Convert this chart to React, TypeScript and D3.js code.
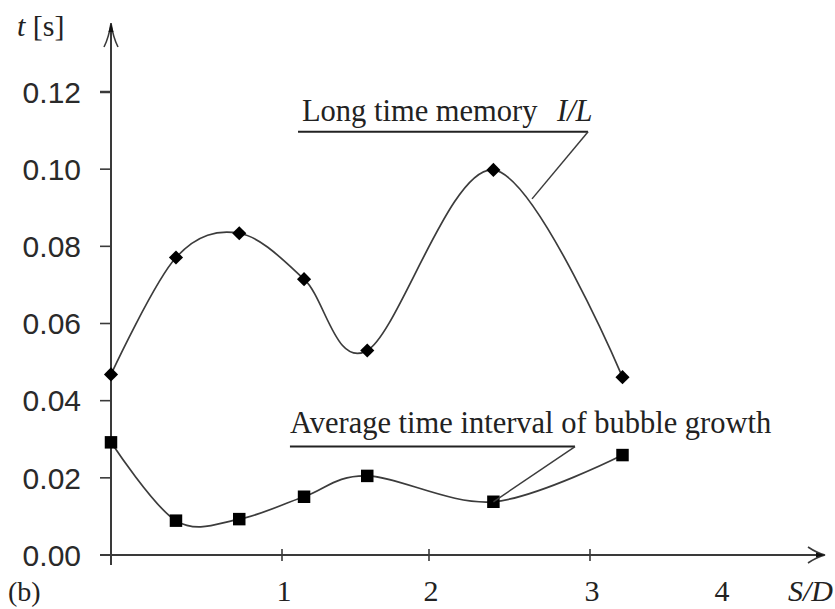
import React from 'react';
import * as d3 from 'd3';

// ---- data ----
const sdValues = [0, 0.38, 0.75, 1.15, 1.58, 2.4, 3.25];
const memoryValues = [0.0468, 0.0771, 0.0834, 0.0715, 0.053, 0.0998, 0.0461];
const growthValues = [0.0292, 0.0089, 0.0093, 0.0151, 0.0205, 0.0138, 0.0259];

const xTickValues = [1, 2, 3];
const xLabelValues = [1, 2, 3, 4];
const xLabelTexts = ['1', '2', '3', '4'];
const yTickValues = [0.02, 0.04, 0.06, 0.08, 0.1, 0.12];
const yLabelValues = [0, 0.02, 0.04, 0.06, 0.08, 0.1, 0.12];
const yLabelTexts = ['0.00', '0.02', '0.04', '0.06', '0.08', '0.10', '0.12'];

// annotations (data units)
const memoryNote = { text: 'Long time memory', sym: 'I/L', x: 1.136, symX: 2.795, y: 0.1126, lineX0: 1.109, lineX1: 2.988, lineY: 0.1097, tipX: 2.64, tipY: 0.0923 };
const growthNote = { text: 'Average time interval of bubble growth', x: 1.054, y: 0.0316, lineX0: 1.054, lineX1: 2.907, lineY: 0.0281, tipIndex: 5 };

const W = 835;
const H = 609;

export default function App() {
  const x = d3.scaleLinear().domain([0, 1, 2, 3, 4, 4.7]).range([111, 282, 429, 590, 720, 825]);
  const y = d3.scaleLinear().domain([0, 0.12]).range([555, 92]);

  const line = d3
    .line<[number, number]>()
    .x((d) => x(d[0]))
    .y((d) => y(d[1]))
    .curve(d3.curveCardinal.tension(0));

  const memPts: [number, number][] = sdValues.map((s, i) => [s, memoryValues[i]]);
  const grPts: [number, number][] = sdValues.map((s, i) => [s, growthValues[i]]);

  const diamond = d3.symbol().type(d3.symbolSquare).size(100)();
  const square = d3.symbol().type(d3.symbolSquare).size(156)();

  const x0 = x(0);
  const yBase = y(0);
  const xEnd = x(4.7);
  const yTop = 23;

  const axisColor = '#3a3a3a';
  const curveColor = '#3c3c3c';
  const serif = 'Liberation Serif, Times New Roman, serif';

  return (
    <svg width={W} height={H} style={{ position: 'absolute', left: 0, top: 0, background: '#fff' }}>
      {/* axes */}
      <line x1={x0} y1={565} x2={x0} y2={yTop + 2} stroke={axisColor} strokeWidth={2} />
      <line x1={100} y1={yBase} x2={xEnd - 2} y2={yBase} stroke={axisColor} strokeWidth={2} />
      {/* y arrow */}
      <path d={`M${x0 - 7},${yTop + 24} Q${x0 - 2},${yTop + 14} ${x0},${yTop} Q${x0 + 2},${yTop + 14} ${x0 + 7},${yTop + 24}`} fill="none" stroke={axisColor} strokeWidth={1.6} />
      <path d={`M${x0},${yTop} L${x0 - 2.5},${yTop + 9} L${x0 + 2.5},${yTop + 9} Z`} fill="#111" />
      {/* x arrow */}
      <path d={`M${xEnd - 17},${yBase - 8} Q${xEnd - 8},${yBase - 2} ${xEnd},${yBase} Q${xEnd - 8},${yBase + 2} ${xEnd - 17},${yBase + 8}`} fill="none" stroke={axisColor} strokeWidth={1.6} />
      <path d={`M${xEnd},${yBase} L${xEnd - 9},${yBase - 2.5} L${xEnd - 9},${yBase + 2.5} Z`} fill="#111" />

      {/* y ticks */}
      {yTickValues.map((v) => (
        <line key={v} x1={100} x2={x0} y1={y(v)} y2={y(v)} stroke={axisColor} strokeWidth={v === 0.12 ? 2.5 : 1.6} />
      ))}
      {yLabelValues.map((v, i) => (
        <text key={v} x={81} y={y(v)} dy="0.36em" textAnchor="end" fontFamily="Liberation Sans, Arial, sans-serif" fontSize={30} fill="#2a2a2a">
          {yLabelTexts[i]}
        </text>
      ))}
      {/* x ticks */}
      {xTickValues.map((v) => (
        <line key={v} x1={x(v)} x2={x(v)} y1={yBase - 6} y2={yBase + 6} stroke={axisColor} strokeWidth={1.6} />
      ))}
      {xLabelValues.map((v, i) => (
        <text key={v} x={x(v) + 2} y={601} textAnchor="middle" fontFamily={serif} fontSize={30} fill="#222">
          {xLabelTexts[i]}
        </text>
      ))}
      <text x={788} y={601} fontFamily={serif} fontStyle="italic" fontSize={30} fill="#222">S/D</text>
      <text x={8} y={601} fontFamily={serif} fontSize={28} fill="#222">(b)</text>
      <text x={17} y={36} fontFamily={serif} fontSize={30} fill="#222">
        <tspan fontStyle="italic">t</tspan>
        <tspan> [s]</tspan>
      </text>

      {/* curves */}
      <path d={line(memPts) || ''} fill="none" stroke={curveColor} strokeWidth={1.7} />
      <path d={line(grPts) || ''} fill="none" stroke={curveColor} strokeWidth={1.7} />

      {/* markers */}
      {memPts.map((p, i) => (
        <path key={'d' + i} d={diamond || ''} transform={`translate(${x(p[0])},${y(p[1])}) rotate(45)`} fill="#000" />
      ))}
      {grPts.map((p, i) => (
        <path key={'s' + i} d={square || ''} transform={`translate(${x(p[0])},${y(p[1])})`} fill="#000" />
      ))}

      {/* annotation: long time memory */}
      <text x={x(memoryNote.x)} y={y(memoryNote.y)} fontFamily={serif} fontSize={30.5} fill="#222">
        {memoryNote.text}
      </text>
      <text x={x(memoryNote.symX)} y={y(memoryNote.y)} fontFamily={serif} fontStyle="italic" fontSize={30.5} fill="#222">
        {memoryNote.sym}
      </text>
      <line x1={x(memoryNote.lineX0)} x2={x(memoryNote.lineX1)} y1={y(memoryNote.lineY)} y2={y(memoryNote.lineY)} stroke="#222" strokeWidth={2} />
      <line x1={x(memoryNote.lineX1)} y1={y(memoryNote.lineY)} x2={x(memoryNote.tipX)} y2={y(memoryNote.tipY)} stroke={curveColor} strokeWidth={1.5} />

      {/* annotation: bubble growth */}
      <text x={x(growthNote.x)} y={y(growthNote.y)} fontFamily={serif} fontSize={30.5} fill="#222">
        {growthNote.text}
      </text>
      <line x1={x(growthNote.lineX0)} x2={x(growthNote.lineX1)} y1={y(growthNote.lineY)} y2={y(growthNote.lineY)} stroke="#222" strokeWidth={2} />
      <line x1={x(growthNote.lineX1)} y1={y(growthNote.lineY)} x2={x(sdValues[growthNote.tipIndex])} y2={y(growthValues[growthNote.tipIndex])} stroke={curveColor} strokeWidth={1.5} />
    </svg>
  );
}
